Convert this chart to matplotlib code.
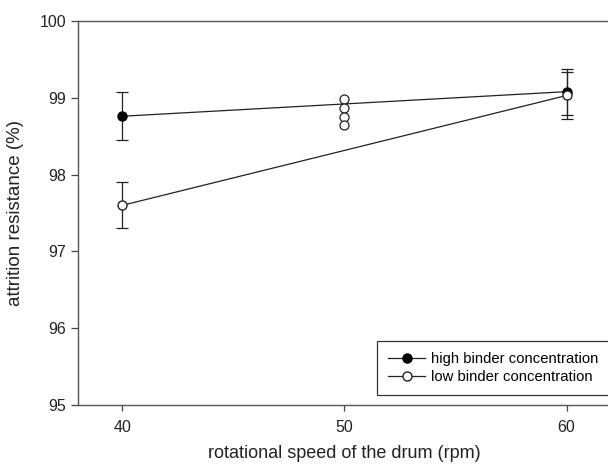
import matplotlib
matplotlib.use("Agg")
import matplotlib.pyplot as plt
from matplotlib.lines import Line2D

plt.rcParams['font.family'] = ['Liberation Sans', 'DejaVu Sans']

x_high = [40, 60]
y_high = [98.76, 99.08]
err_high = [0.31, 0.30]

x_low = [40, 60]
y_low = [97.60, 99.03]
err_low = [0.30, 0.30]

x_rep = [50, 50, 50, 50]
y_rep = [98.98, 98.87, 98.75, 98.64]

xticks = [40, 50, 60]
yticks = [95, 96, 97, 98, 99, 100]
labels = ['high binder concentration', 'low binder concentration']

fig = plt.figure(figsize=(6.08, 4.65), dpi=100)
ax = fig.add_axes([78/608, 60/465, (611-78)/608, 384/465])

line_c = '#222222'
ax.errorbar(x_high, y_high, yerr=err_high, fmt='-o', color=line_c, lw=0.9,
            mfc='black', mec='black', ms=6.5, capsize=4.3, elinewidth=0.9,
            capthick=0.9, zorder=3)
ax.errorbar(x_low, y_low, yerr=err_low, fmt='-o', color=line_c, lw=0.9,
            mfc='white', mec='#222222', ms=6.5, capsize=4.3, elinewidth=0.9,
            capthick=0.9, zorder=3)
ax.plot(x_rep, y_rep, 'o', mfc='white', mec='#222222', ms=6.5, mew=0.9, zorder=4)

ax.set_xlim(38, 62)
ax.set_ylim(95, 100)
ax.set_xticks(xticks)
ax.set_yticks(yticks)
ax.tick_params(axis='both', direction='out', labelsize=11.5, colors='#444444',
               labelcolor='#222222')
ax.tick_params(axis='y', length=5, width=0.9)
ax.tick_params(axis='x', length=4, width=0.9, pad=7)
for s in ax.spines.values():
    s.set_color('#555555')
    s.set_linewidth(1.0)

ax.set_xlabel('rotational speed of the drum (rpm)', fontsize=13, color='#222222', labelpad=7)
ax.set_ylabel('attrition resistance (%)', fontsize=13.5, color='#222222', labelpad=11)

handles = [
    Line2D([], [], color=line_c, lw=0.9, marker='o', mfc='black', mec='black', ms=6.5),
    Line2D([], [], color=line_c, lw=0.9, marker='o', mfc='white', mec='#222222', ms=6.5),
]
leg = ax.legend(handles, labels, loc='lower left', bbox_to_anchor=(0.561, 0.026),
                fontsize=10.7, frameon=True, fancybox=False, edgecolor='black',
                handlelength=2.5, borderpad=0.75, labelspacing=0.25,
                handletextpad=0.35, borderaxespad=0)
leg.get_frame().set_linewidth(0.9)

fig.savefig('out.png', dpi=100)
